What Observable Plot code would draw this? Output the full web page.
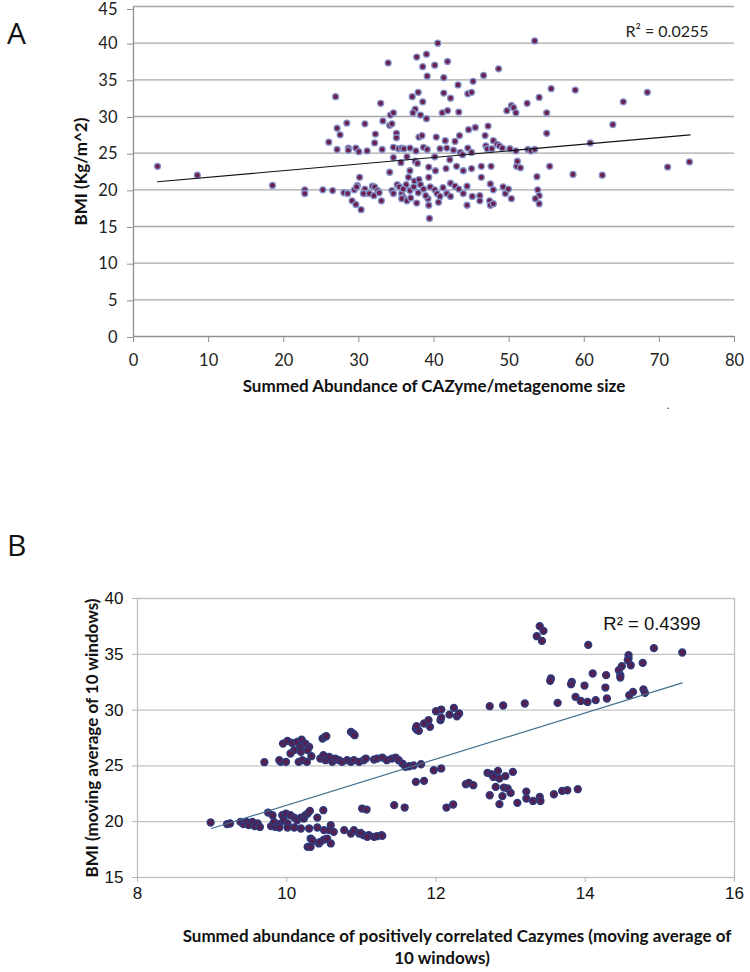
<!DOCTYPE html>
<html><head><meta charset="utf-8">
<script src="https://cdn.jsdelivr.net/npm/d3@7"></script>
<script src="https://cdn.jsdelivr.net/npm/@observablehq/plot@0.6"></script>
<style>
html,body{margin:0;padding:0;background:#fff;}
#wrap{position:relative;width:750px;height:972px;overflow:hidden;background:#fff;}
.panel{position:absolute;left:0;}
.tag{position:absolute;left:7px;font-family:"Open Sans",sans-serif;font-size:30px;line-height:30px;color:#111;}
</style></head><body>
<div id="wrap">
  <div id="pa" class="panel" style="top:0"></div>
  <div id="pb" class="panel" style="top:520px"></div>
  <div class="tag" style="top:18px">A</div>
  <div class="tag" style="top:530px">B</div>
</div>
<script>
// ---------- Panel A data ----------
const pointsA = [
[3.2,23.2],[8.5,22.0],[18.5,20.6],[22.8,20.0],[22.8,19.5],[25.2,20.0],[26.5,19.9],[26.9,32.7],[26.0,26.5],[27.1,25.5],[27.1,28.4],[27.5,27.5],[28.4,29.1],[28.6,25.7],[28.6,25.4],[29.6,25.7],[30.0,25.2],[30.8,29.0],[31.1,25.3],[30.1,21.7],[29.8,20.6],[29.4,20.0],[28.0,19.6],[28.5,19.5],[30.8,20.1],[30.8,19.5],[31.8,20.5],[31.4,19.5],[32.1,26.4],[32.2,27.6],[29.1,18.5],[29.6,18.0],[30.3,17.3],[29.7,20.4],[30.6,19.5],[32.0,19.2],[32.1,20.4],[32.5,19.9],[32.7,19.6],[33.0,18.5],[33.1,25.5],[32.9,31.8],[33.2,29.4],[33.9,37.3],[34.2,30.2],[34.6,30.5],[34.1,28.8],[34.4,29.0],[35.0,27.7],[35.0,27.1],[34.6,25.8],[35.3,25.6],[35.7,25.7],[34.6,24.4],[35.6,23.7],[34.1,22.4],[34.4,19.9],[34.6,19.5],[35.1,20.7],[35.4,20.4],[35.7,19.5],[35.9,19.0],[35.7,18.8],
[40.5,40.0],[53.4,40.3],[37.7,38.1],[39.0,38.5],[38.5,36.8],[40.1,37.0],[41.8,37.5],[39.1,35.5],[41.3,35.3],[43.2,34.3],[45.2,34.8],[46.6,35.6],[48.6,36.5],[37.1,32.7],[37.9,33.3],[41.3,33.2],[42.2,32.5],[44.5,33.1],[45.0,33.3],[38.5,32.0],[37.5,31.0],[37.2,30.5],[38.2,30.2],[39.0,29.7],[41.1,30.5],[41.8,30.8],[43.3,30.6],[49.7,30.8],[50.3,31.5],[50.6,31.2],[50.9,30.5],[52.4,31.8],[54.0,32.6],[55.6,33.8],[55.0,30.5],[55.0,27.7],[55.4,23.2],[45.5,28.5],[44.6,28.2],[47.2,28.7],[43.4,27.4],[46.8,27.4],[38.0,27.2],[38.4,27.4],[40.3,27.2],[41.5,26.7],[42.8,26.6],[47.9,26.7],[48.4,26.2],[48.7,26.0],[49.1,25.7],[46.9,26.0],
[36.0,25.6],[36.8,25.7],[37.6,25.3],[38.6,25.8],[39.1,25.5],[40.8,25.6],[41.7,25.7],[42.6,25.4],[43.5,25.1],[44.5,25.7],[45.0,25.1],[47.1,25.6],[47.7,25.6],[50.1,25.6],[50.9,25.3],[52.5,25.5],[52.9,25.3],[53.4,25.5],
[36.4,24.5],[37.5,23.9],[40.1,24.5],[42.1,24.1],[43.8,24.8],[37.8,23.6],[39.3,23.1],[40.2,22.6],[41.6,22.9],[43.0,23.2],[43.9,22.6],[45.0,22.9],[46.3,23.2],[47.6,23.2],[51.0,23.2],[51.5,23.0],[51.1,23.9],[36.8,22.6],[36.6,21.7],[37.4,21.2],[38.0,21.4],[39.3,21.7],[42.2,20.9],[42.8,20.5],[44.4,20.5],[46.3,21.7],[47.5,20.8],[47.9,20.0],[49.2,20.4],[49.5,19.5],[50.3,18.8],[53.7,21.8],[53.8,20.0],[54.0,19.2],[53.5,18.8],[54.0,18.1],
[36.3,20.7],[35.9,20.1],[36.8,19.9],[37.3,20.4],[38.2,20.7],[38.6,20.1],[39.5,20.4],[40.1,20.0],[40.4,19.5],[40.8,19.1],[41.7,19.5],[42.2,19.1],[43.9,19.5],[45.1,19.1],[46.1,19.2],[46.1,18.5],[47.4,18.5],[47.5,17.9],[44.4,17.9],[36.4,18.5],[37.7,18.2],[39.3,17.9],[39.2,18.8],[40.6,18.3],[39.4,16.1],[49.9,20.1],[47.9,18.1],[37.9,19.6],[38.9,19.2],[36.9,18.9],[41.2,20.3],[43.3,20.1],
[58.8,33.6],[65.2,32.0],[68.4,33.3],[63.8,28.9],[60.8,26.4],[58.5,22.1],[62.4,22.0],[71.1,23.1],[74.0,23.8]
];
const trendA = [[3.2,21.1],[74.1,27.5]];
const ticksAX = [0,10,20,30,40,50,60,70,80];
const ticksAY = [0,5,10,15,20,25,30,35,40,45];
const labelAX = "Summed Abundance of CAZyme/metagenome size";
const labelAY = "BMI (Kg/m^2)";
const r2A = "R\u00B2 = 0.0255";

// ---------- Panel B data ----------
const pointsB = [
[8.98,19.93],[9.20,19.78],[9.24,19.84],[9.38,19.98],[9.42,19.78],[9.46,19.98],[9.49,19.69],[9.54,19.98],[9.57,19.60],[9.61,19.84],[9.64,19.53],[9.75,20.82],[9.79,19.60],[9.81,20.58],[9.83,19.98],[9.85,19.53],[9.90,19.78],[9.94,20.58],[9.96,20.13],[9.99,20.73],[10.01,19.84],[10.05,20.58],[10.10,20.37],[10.14,20.13],[10.19,20.37],[10.23,20.28],[10.25,20.58],[10.28,20.73],[10.31,20.97],[10.41,20.37],[10.49,21.03],[10.59,19.69],
[9.90,19.48],[10.01,19.48],[10.10,19.48],[10.19,19.39],[10.30,19.39],[10.41,19.48],[10.50,19.24],[10.57,19.24],[10.63,19.09],[10.77,19.24],[10.86,18.94],[10.90,19.24],[10.97,18.94],[11.03,18.79],[11.10,18.79],[11.17,18.64],[11.27,18.79],[10.99,19.00],[11.08,18.64],[11.21,18.70],[11.28,18.73],
[10.28,17.74],[10.32,17.74],[10.35,18.28],[10.43,18.05],[10.45,18.19],[10.50,18.40],[10.54,18.49],[10.59,18.05],[10.32,18.49],[10.34,18.34],
[11.01,21.18],[11.07,21.09],[11.44,21.48],[11.58,21.27],
[9.70,25.33],[9.95,27.00],[10.01,27.24],[10.07,27.06],[10.14,27.15],[10.20,27.36],[10.25,27.00],[10.30,26.70],[10.18,26.70],[10.10,26.41],[10.05,26.11],[10.19,26.26],[10.28,26.41],[10.33,25.87],[9.92,25.36],[9.99,25.36],[9.90,25.51],[10.16,25.36],[10.21,25.51],[10.27,25.36],[10.48,27.45],[10.51,27.60],[10.53,27.66],
[10.45,25.66],[10.49,25.96],[10.52,25.51],[10.57,25.81],[10.61,25.36],[10.65,25.66],[10.70,25.51],[10.74,25.36],[10.81,25.51],[10.86,25.36],[10.90,25.51],[10.97,25.36],[11.03,25.51],[11.06,25.66],[10.86,28.05],[10.89,27.90],[10.91,27.75],
[11.17,25.57],[11.21,25.66],[11.28,25.75],[11.34,25.51],[11.41,25.66],[11.46,25.75],[11.50,25.51],[11.55,25.21],[11.59,24.91],[11.64,24.97],[11.70,25.04],[11.80,25.15],[11.73,28.35],[11.75,28.20],[11.77,28.14],[11.84,28.80],[11.73,23.57],[11.84,23.66],
[13.39,37.52],[13.44,37.10],[13.35,36.62],[13.42,36.20],[14.04,35.84],[14.92,35.55],[15.30,35.16],[14.58,34.92],[14.58,34.62],[14.57,34.47],[14.49,33.93],[14.45,33.57],[14.47,33.13],[14.47,32.92],[14.77,34.23],[14.61,34.02],[14.28,33.13],[14.10,33.28],[14.27,32.02],[14.29,31.04],[13.54,32.83],[13.53,32.62],[13.82,32.53],[13.81,32.32],[13.99,32.20],[13.87,31.18],[13.94,30.82],[14.03,30.73],[14.14,30.89],[13.63,30.65],[13.19,30.59],[12.90,30.41],[12.72,30.35],[14.59,31.33],[14.64,31.63],[14.78,31.85],[14.80,31.54],
[12.24,30.20],[12.18,29.60],[12.28,29.45],[12.31,29.70],[12.07,30.05],[12.00,29.90],[12.06,29.10],[12.07,29.33],[11.90,29.10],[11.92,28.50],[11.74,28.56],
[11.97,24.61],[12.07,24.77],[12.14,21.27],[12.23,21.54],[12.40,23.36],[12.44,23.48],[12.50,23.27],[12.69,24.37],[12.74,24.26],[12.77,24.01],[12.83,24.55],[12.93,24.08],[13.03,24.46],[12.85,23.87],[12.80,23.12],[12.91,23.06],[12.96,22.98],[13.00,22.58],[12.72,22.37],[12.89,22.29],[12.85,21.57],[13.09,21.69],[13.21,22.70],[13.21,22.08],[13.30,21.86],[13.39,22.22],[13.40,21.86],[13.58,22.46],[13.69,22.76],[13.76,22.82],[13.90,22.91]
];
const trendB = [[8.99,19.39],[15.30,32.44]];
const ticksBX = [8,10,12,14,16];
const ticksBY = [15,20,25,30,35,40];
const labelBX1 = "Summed abundance of positively correlated Cazymes (moving average of";
const labelBX2 = "10 windows)";
const labelBY = "BMI (moving average of 10 windows)";
const r2B = "R\u00B2 = 0.4399";

// ---------- Panel A ----------
const calibriLike = "Lato, 'Open Sans', sans-serif";
const topTickA = ticksAY[ticksAY.length - 1];
const plotA = Plot.plot({
  width: 750, height: 420,
  marginLeft: 133, marginRight: 16, marginTop: 6, marginBottom: 84,
  style: {fontFamily: calibriLike, fontSize: "16px", background: "transparent", overflow: "visible", color: "#222"},
  x: {domain: [0, 80], label: null},
  y: {domain: [0, 45], label: null},
  marks: [
    Plot.ruleY(ticksAY.filter(d => d > 0), {stroke: "#a8a8a8", strokeWidth: 1.3}),
    Plot.ruleX([0], {stroke: "#8f8f8f", strokeWidth: 1.3}),
    Plot.ruleY([0], {stroke: "#8f8f8f", strokeWidth: 1.3}),
    Plot.axisY(ticksAY.filter(d => d !== topTickA), {tickSize: 6, tickPadding: 10, stroke: "#8f8f8f", fill: "#222", fontSize: 16.5, dy: 1, label: null}),
    Plot.axisY([topTickA], {tickSize: 6, tickPadding: 10, stroke: "#8f8f8f", fill: "#222", fontSize: 16.5, dy: 3, label: null}),
    Plot.axisX(ticksAX, {tickSize: 6, tickPadding: 12, stroke: "#8f8f8f", fill: "#222", fontSize: 16.5, label: null}),
    Plot.dot(pointsA, {x: d => d[0], y: d => d[1], r: 3, fill: "#6c1f4e", stroke: "#8494cb", strokeWidth: 1.3}),
    Plot.line(trendA, {x: d => d[0], y: d => d[1], stroke: "#111", strokeWidth: 1.1}),
    Plot.text([r2A], {frameAnchor: "top-right", dx: -26, dy: 25, textAnchor: "end", lineAnchor: "middle", fontSize: 16, fill: "#222"}),
    Plot.text([labelAY], {frameAnchor: "left", dx: -52, rotate: -90, textAnchor: "middle", lineAnchor: "middle", fontSize: 17, fontWeight: "bold", fill: "#111"}),
    Plot.text([labelAX], {frameAnchor: "bottom", dy: 50, textAnchor: "middle", lineAnchor: "middle", fontSize: 17, fontWeight: "bold", fill: "#111"}),
    Plot.text(["."], {frameAnchor: "bottom-right", dx: -65, dy: 72, fontSize: 12, fill: "#444"})
  ]
});
document.getElementById("pa").appendChild(plotA);

// ---------- Panel B ----------
const arialLike = "'Liberation Sans', Arial, sans-serif";
const plotB = Plot.plot({
  width: 750, height: 452,
  marginLeft: 137, marginRight: 16, marginTop: 78, marginBottom: 95,
  style: {fontFamily: arialLike, fontSize: "17px", background: "transparent", overflow: "visible", color: "#111"},
  x: {domain: [8, 16], label: null},
  y: {domain: [15, 40], label: null},
  marks: [
    Plot.ruleY(ticksBY.filter(d => d > 15 && d < 40), {stroke: "#c4c4c4", strokeWidth: 1.3}),
    Plot.frame({stroke: "#bdbdbd", strokeWidth: 1.3}),
    Plot.axisY(ticksBY, {tickSize: 5, tickPadding: 9, stroke: "#b5b5b5", fill: "#111", fontSize: 17, label: null}),
    Plot.axisX(ticksBX, {tickSize: 5, tickPadding: 4, stroke: "#b5b5b5", fill: "#111", fontSize: 17, label: null}),
    Plot.dot(pointsB, {x: d => d[0], y: d => d[1], r: 3.4, fill: "#55204f", stroke: "#2d3b7c", strokeWidth: 1.5}),
    Plot.line(trendB, {x: d => d[0], y: d => d[1], stroke: "#45708e", strokeWidth: 1.2}),
    Plot.text([r2B], {frameAnchor: "top-right", dx: -34, dy: 25.5, textAnchor: "end", lineAnchor: "middle", fontSize: 18.5, fill: "#111"}),
    Plot.text([labelBY], {frameAnchor: "left", dx: -45, rotate: -90, textAnchor: "middle", lineAnchor: "middle", fontFamily: calibriLike, fontSize: 17, fontWeight: "bold", fill: "#111"}),
    Plot.text([labelBX1], {frameAnchor: "bottom", dx: 21, dy: 59, textAnchor: "middle", lineAnchor: "middle", fontFamily: calibriLike, fontSize: 17, fontWeight: "bold", fill: "#111"}),
    Plot.text([labelBX2], {frameAnchor: "bottom", dx: 6, dy: 81, textAnchor: "middle", lineAnchor: "middle", fontFamily: calibriLike, fontSize: 17, fontWeight: "bold", fill: "#111"})
  ]
});
document.getElementById("pb").appendChild(plotB);
</script>
</body></html>
